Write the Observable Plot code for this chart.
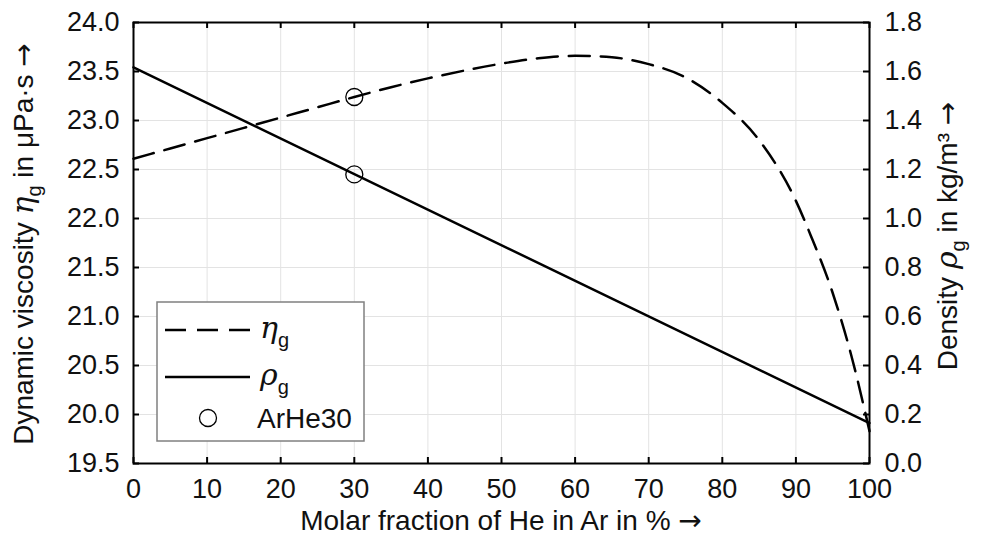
<!DOCTYPE html>
<html><head><meta charset="utf-8">
<script src="https://cdn.jsdelivr.net/npm/d3@7"></script>
<script src="https://cdn.jsdelivr.net/npm/@observablehq/plot@0.6"></script>
<style>body{margin:0;background:#fff;}</style>
</head><body><div id="chart"></div>
<script>
// ---- data ----
const xTicks = [0,10,20,30,40,50,60,70,80,90,100];
const etaTicks = [19.5,20.0,20.5,21.0,21.5,22.0,22.5,23.0,23.5,24.0];
const rhoTicks = [0.0,0.2,0.4,0.6,0.8,1.0,1.2,1.4,1.6,1.8];
const molarFraction = [0,5,10,15,20,25,30,35,40,45,50,55,60,65,70,75,80,85,90,92,95,97.5,100];
const viscosity = [22.61,22.715,22.82,22.925,23.03,23.135,23.24,23.34,23.43,23.51,23.58,23.635,23.66,23.645,23.575,23.44,23.18,22.80,22.18,21.83,21.24,20.61,19.83];
const densityX = [0,100];
const density = [1.617,0.165];
const refName = ["ArHe30"];
const refX = [30];
const refEta = [23.24];
const refRho = [1.18];

// ---- mapping of right axis (density) onto left scale ----
const etaMin = etaTicks[0], etaMax = etaTicks[etaTicks.length-1];
const rhoMin = rhoTicks[0], rhoMax = rhoTicks[rhoTicks.length-1];
const toEta = r => etaMin + (r - rhoMin) * (etaMax - etaMin) / (rhoMax - rhoMin);
const toRho = e => rhoMin + (e - etaMin) * (rhoMax - rhoMin) / (etaMax - etaMin);

const etaData = molarFraction.map((x,i)=>({x, y: viscosity[i]}));
const rhoData = densityX.map((x,i)=>({x, y: toEta(density[i])}));
const refData = refX.flatMap((x,i)=>[{x, y: refEta[i]}, {x, y: toEta(refRho[i])}]);

const FONT = "Liberation Sans, Arial, sans-serif";
const ARROW_FONT = "DejaVu Sans, sans-serif";
const MATH = "DejaVu Serif, Liberation Serif, serif";
const FS = 27, TS = 28;
const DASH = "21,11";
const W = 984, H = 541, ML = 133, MR = 115, MT = 22, MB = 78;
const FW = W - ML - MR, FH = H - MT - MB, TICK = 6;

const plot = Plot.plot({
  width: W, height: H,
  marginLeft: ML, marginRight: MR, marginTop: MT, marginBottom: MB,
  style: {fontFamily: FONT, fontSize: FS + "px", background: "#fff", color: "#111"},
  x: {domain: [xTicks[0], xTicks[xTicks.length-1]]},
  y: {domain: [etaMin, etaMax]},
  marks: [
    Plot.gridX(xTicks, {stroke: "#e3e3e3", strokeOpacity: 1, strokeWidth: 1}),
    Plot.gridY(etaTicks, {stroke: "#e3e3e3", strokeOpacity: 1, strokeWidth: 1}),
    Plot.line(etaData, {x: "x", y: "y", stroke: "#000", strokeWidth: 2.5, strokeDasharray: DASH, curve: "monotone-x"}),
    Plot.line(rhoData, {x: "x", y: "y", stroke: "#000", strokeWidth: 2.5}),
    Plot.dot(refData, {x: "x", y: "y", r: 8.5, stroke: "#000", strokeWidth: 1.3, fill: "none"}),
    // inward tick marks on all four sides
    Plot.tickY(etaTicks, {y: d => d, insetRight: FW - TICK, stroke: "#000", strokeWidth: 2}),
    Plot.tickY(rhoTicks.map(toEta), {y: d => d, insetLeft: FW - TICK, stroke: "#000", strokeWidth: 2}),
    Plot.tickX(xTicks, {x: d => d, insetTop: FH - TICK, stroke: "#000", strokeWidth: 2}),
    Plot.tickX(xTicks, {x: d => d, insetBottom: FH - TICK, stroke: "#000", strokeWidth: 2}),
    // tick labels
    Plot.axisX(xTicks, {anchor: "bottom", tickSize: 0, tickPadding: 15, label: null, tickFormat: d => String(d)}),
    Plot.axisY(etaTicks, {anchor: "left", tickSize: 0, tickPadding: 14, label: null, tickFormat: d => d.toFixed(1)}),
    Plot.axisY(rhoTicks.map(toEta), {anchor: "right", tickSize: 0, tickPadding: 15, label: null, tickFormat: d => toRho(d).toFixed(1)}),
    Plot.frame({stroke: "#000", strokeWidth: 2})
  ]
});
document.getElementById("chart").appendChild(plot);

// ---- axis titles and legend (real text) ----
const svg = d3.select(plot);
const g = svg.append("g").attr("font-family", FONT).attr("font-size", TS).attr("fill", "#111");

// x label
const xl = g.append("text").attr("x", 501).attr("y", 530).attr("text-anchor", "middle");
xl.append("tspan").text("Molar fraction of He in Ar in % ");
xl.append("tspan").attr("font-family", ARROW_FONT).text("\u2192");

// left y label
const ly = g.append("text").attr("transform", "translate(33,244) rotate(-90)").attr("text-anchor", "middle");
ly.append("tspan").text("Dynamic viscosity ");
ly.append("tspan").attr("font-family", MATH).attr("font-style", "italic").attr("font-size", 30).text("\u03B7");
ly.append("tspan").attr("font-size", 20).attr("dy", 8).text("g");
ly.append("tspan").attr("dy", -8).text(" in \u03BCPa\u00B7s ");
ly.append("tspan").attr("font-family", ARROW_FONT).text("\u2192");

// right y label
const ry = g.append("text").attr("transform", "translate(957,236) rotate(-90)").attr("text-anchor", "middle");
ry.append("tspan").text("Density ");
ry.append("tspan").attr("font-family", MATH).attr("font-style", "italic").attr("font-size", 30).text("\u03C1");
ry.append("tspan").attr("font-size", 20).attr("dy", 8).text("g");
ry.append("tspan").attr("dy", -8).text(" in kg/m\u00B3 ");
ry.append("tspan").attr("font-family", ARROW_FONT).text("\u2192");

// legend
const lg = svg.append("g").attr("font-family", FONT).attr("font-size", TS).attr("fill", "#111").attr("text-anchor", "start");
lg.append("rect").attr("x", 157).attr("y", 302).attr("width", 207).attr("height", 139)
  .attr("fill", "#fff").attr("stroke", "#808080").attr("stroke-width", 1.5);
lg.append("line").attr("x1", 165).attr("x2", 250).attr("y1", 330).attr("y2", 330)
  .attr("stroke", "#000").attr("stroke-width", 2.5).attr("stroke-dasharray", DASH);
lg.append("line").attr("x1", 165).attr("x2", 250).attr("y1", 377).attr("y2", 377)
  .attr("stroke", "#000").attr("stroke-width", 2.5);
lg.append("circle").attr("cx", 208).attr("cy", 418).attr("r", 8.5)
  .attr("fill", "none").attr("stroke", "#000").attr("stroke-width", 1.3);
const t1 = lg.append("text").attr("x", 260).attr("y", 338);
t1.append("tspan").attr("font-family", MATH).attr("font-style", "italic").attr("font-size", 30).text("\u03B7");
t1.append("tspan").attr("font-size", 20).attr("dy", 9).text("g");
const t2 = lg.append("text").attr("x", 260).attr("y", 385);
t2.append("tspan").attr("font-family", MATH).attr("font-style", "italic").attr("font-size", 30).text("\u03C1");
t2.append("tspan").attr("font-size", 20).attr("dy", 9).text("g");
lg.append("text").attr("x", 257).attr("y", 428).text(refName[0]);
</script>
</body></html>
